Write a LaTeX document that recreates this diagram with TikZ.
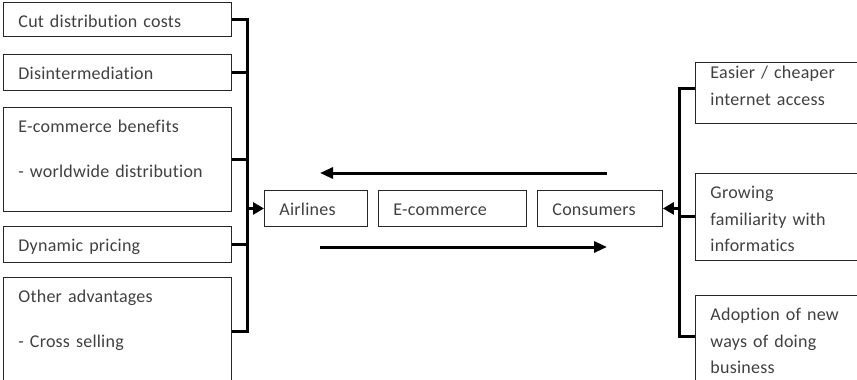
\documentclass[tikz,border=0pt]{standalone}
\usepackage{fontspec}
\setmainfont{Carlito}[Ligatures=NoCommon, LetterSpace=1.3]
\usepackage{tikz}
\usetikzlibrary{arrows.meta,calc}
\definecolor{boxline}{HTML}{262626}
\definecolor{boxtext}{HTML}{404040}

\begin{document}
\begin{tikzpicture}[
  x=1pt, y=1pt,
  box/.style={draw=boxline, line width=0.9pt, anchor=north west, inner xsep=15pt, inner ysep=0pt, align=left, text height=25pt, text=boxtext, font=\fontsize{18}{26.7}\selectfont},
  factor/.style={box, text width=198pt},
  actor/.style={box, text depth=11pt},
  driver/.style={box, text width=200pt},
  link/.style={line width=3pt, black},
  arrow/.style={link, -{Triangle[length=11pt,width=12pt]}},
  flow/.style={link, -{Triangle[length=13pt,width=11pt]}}
]
  \useasboundingbox (0,0) rectangle (857,-380);
  \clip (0,0) rectangle (857,-380);

  % airline side
  \node[factor, text depth=9pt] (cut) at (3,-2) {Cut distribution costs};
  \node[factor, text depth=11pt] (dis) at (3,-54) {Disintermediation};
  \node[factor, text depth=79pt] (ecb) at (3,-107) {E-commerce benefits\\[18.3pt]- worldwide distribution};
  \node[factor, text depth=11pt] (dyn) at (3,-226) {Dynamic pricing};
  \node[factor, text depth=83pt] (other) at (3,-277) {Other advantages\\[18.6pt]- Cross selling};

  % middle row
  \node[actor, text width=73pt] (airlines) at (264,-190) {Airlines};
  \node[actor, text width=118pt] (ecom) at (378,-190) {E-commerce};
  \node[actor, text width=95pt] (cons) at (537,-190) {Consumers};

  % consumer side
  \node[driver, text height=16pt, text depth=45pt] (easy) at (695,-62) {Easier / cheaper\\internet access};
  \node[driver, text depth=62pt] (fam) at (695,-173) {Growing\\familiarity with\\informatics};
  \node[driver, text depth=62pt] (adopt) at (695,-295) {Adoption of new\\ways of doing\\business};

  \coordinate (lbus) at (247,0);
  \coordinate (rbus) at (679,0);
  \coordinate (upperR) at (607,-173);
  \coordinate (upperL) at (320,-173);
  \coordinate (lowerL) at (320,-247);
  \coordinate (lowerR) at (607,-247);

  \draw[link] (cut.east) -- (cut.east -| lbus) -- (other.east -| lbus) -- (other.east);
  \foreach \n in {dis,ecb,dyn}
    \draw[link] (\n.east) -- (\n.east -| lbus);
  \draw[arrow] (airlines.west -| lbus) -- (airlines.west);

  \draw[link] ([yshift=4pt]easy.west) -- ([yshift=4pt]easy.west -| rbus) -- ([yshift=2pt]adopt.west -| rbus) -- ([yshift=2pt]adopt.west);
  \draw[link] (fam.west) -- (fam.west -| rbus);
  \draw[arrow] (cons.east -| rbus) -- (cons.east);

  \draw[flow] (upperR) -- (upperL);
  \draw[flow] (lowerL) -- (lowerR);
\end{tikzpicture}
\end{document}
